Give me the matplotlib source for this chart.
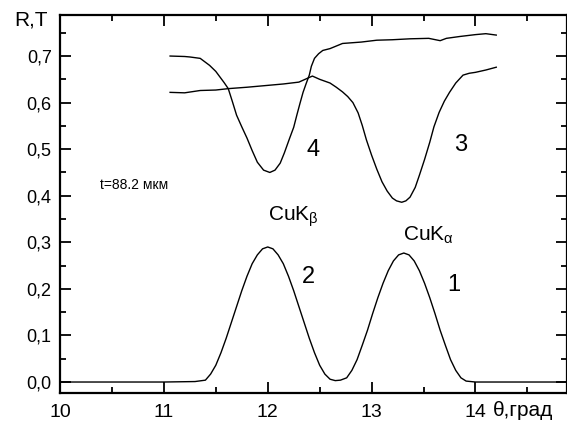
import matplotlib
matplotlib.use("Agg")
import matplotlib.pyplot as plt
from matplotlib.ticker import MultipleLocator, FuncFormatter

plt.rcParams['font.family'] = ['Liberation Sans', 'DejaVu Sans']
plt.rcParams['mathtext.fontset'] = 'custom'
plt.rcParams['mathtext.rm'] = 'Liberation Sans'
plt.rcParams['mathtext.it'] = 'Liberation Sans'

# curves 1 and 2 (one trace, CuK-beta and CuK-alpha peaks)
x12 = [10.0, 10.5, 11.0, 11.3, 11.4, 11.45, 11.5, 11.55, 11.6, 11.65, 11.7, 11.75,
       11.8, 11.85, 11.9, 11.95, 12.0, 12.05, 12.1, 12.15, 12.2, 12.25, 12.3, 12.35,
       12.4, 12.45, 12.5, 12.55, 12.6, 12.65, 12.7, 12.76, 12.81, 12.86, 12.91, 12.96,
       13.01, 13.06, 13.11, 13.16, 13.21, 13.26, 13.31, 13.36, 13.41, 13.46, 13.51,
       13.56, 13.61, 13.66, 13.71, 13.76, 13.81, 13.86, 13.91, 14.0, 14.5, 14.9]
y12 = [0.0, 0.0, 0.0, 0.001, 0.004, 0.017, 0.036, 0.063, 0.094, 0.128, 0.162, 0.196,
       0.227, 0.254, 0.273, 0.286, 0.290, 0.286, 0.273, 0.254, 0.227, 0.196, 0.162, 0.128,
       0.094, 0.063, 0.036, 0.017, 0.006, 0.003, 0.004, 0.009, 0.025, 0.048, 0.079, 0.111,
       0.147, 0.181, 0.212, 0.239, 0.260, 0.273, 0.277, 0.273, 0.260, 0.239, 0.212,
       0.181, 0.147, 0.111, 0.079, 0.048, 0.025, 0.009, 0.002, 0.0, 0.0, 0.0]

# curve 3
x3 = [11.06, 11.2, 11.35, 11.5, 11.62, 11.8, 12.0, 12.15, 12.3, 12.43, 12.5, 12.6,
      12.66, 12.72, 12.77, 12.82, 12.87, 12.91, 12.95, 13.0, 13.05, 13.1, 13.15, 13.2,
      13.24, 13.29, 13.33, 13.37, 13.42, 13.46, 13.51, 13.56, 13.6, 13.65, 13.7, 13.75,
      13.81, 13.88, 13.94, 14.0, 14.1, 14.2]
y3 = [0.622, 0.621, 0.626, 0.627, 0.630, 0.633, 0.637, 0.640, 0.644, 0.657, 0.650, 0.642,
      0.633, 0.623, 0.613, 0.600, 0.578, 0.551, 0.520, 0.487, 0.457, 0.430, 0.410, 0.395,
      0.389, 0.386, 0.389, 0.397, 0.418, 0.444, 0.478, 0.515, 0.548, 0.579, 0.603, 0.622,
      0.642, 0.659, 0.663, 0.665, 0.670, 0.676]

# curve 4
x4 = [11.06, 11.2, 11.25, 11.35, 11.44, 11.5, 11.54, 11.58, 11.62, 11.66, 11.7, 11.75,
      11.8, 11.85, 11.9, 11.96, 12.02, 12.07, 12.12, 12.16, 12.21, 12.25, 12.28, 12.31,
      12.34, 12.37, 12.4, 12.42, 12.45, 12.49, 12.53, 12.6, 12.72, 12.9, 13.05, 13.2,
      13.37, 13.55, 13.66, 13.72, 13.85, 14.0, 14.1, 14.2]
y4 = [0.700, 0.699, 0.698, 0.695, 0.680, 0.667, 0.655, 0.643, 0.630, 0.602, 0.573, 0.548,
      0.524, 0.497, 0.472, 0.455, 0.450, 0.455, 0.470, 0.492, 0.523, 0.547, 0.573, 0.598,
      0.622, 0.641, 0.659, 0.678, 0.695, 0.705, 0.712, 0.716, 0.727, 0.730, 0.734, 0.735,
      0.737, 0.738, 0.733, 0.738, 0.742, 0.746, 0.748, 0.745]

fig = plt.figure(figsize=(5.67, 4.29), dpi=100)
ax = fig.add_axes([0.1058, 0.0839, 0.894, 0.881])

ax.plot(x12, y12, color='black', lw=1.0)
ax.plot(x3, y3, color='black', lw=1.0)
ax.plot(x4, y4, color='black', lw=1.0)

ax.set_xlim(10, 14.88)
ax.set_ylim(-0.0236, 0.788)

ax.xaxis.set_major_locator(MultipleLocator(1))
ax.xaxis.set_minor_locator(MultipleLocator(0.5))
ax.yaxis.set_major_locator(MultipleLocator(0.1))
ax.yaxis.set_minor_locator(MultipleLocator(0.05))
ax.yaxis.set_major_formatter(FuncFormatter(lambda v, p: f"{v:.1f}".replace('.', ',')))
ax.xaxis.set_major_formatter(FuncFormatter(lambda v, p: f"{v:.0f}"))

ax.tick_params(which='both', direction='in', top=True, right=True, width=1.3)
ax.tick_params(which='major', length=8)
ax.tick_params(which='minor', length=4)
ax.tick_params(axis='x', labelsize=14, pad=8)
ax.tick_params(axis='y', labelsize=13, pad=6)
for s in ax.spines.values():
    s.set_linewidth(1.6)

# labels on the curves
ax.text(12.44, 0.498, '4', fontsize=17, ha='center', va='center')
ax.text(13.855, 0.509, '3', fontsize=17, ha='center', va='center')
ax.text(12.39, 0.225, '2', fontsize=17, ha='center', va='center')
ax.text(13.79, 0.208, '1', fontsize=17, ha='center', va='center')
ax.text(12.0, 0.354, r'CuK$_{\mathrm{β}}$', fontsize=15, ha='left', va='center')
ax.text(13.3, 0.316, r'CuK$_{\mathrm{α}}$', fontsize=15, ha='left', va='center')
ax.text(10.385, 0.423, 't=88.2 мкм', fontsize=10, ha='left', va='center')

fig.text(0.026, 0.953, 'R,T', fontsize=15, ha='left', va='center')
fig.text(0.869, 0.044, 'θ,град', fontsize=15, ha='left', va='center')

fig.savefig('out.png', dpi=100)
